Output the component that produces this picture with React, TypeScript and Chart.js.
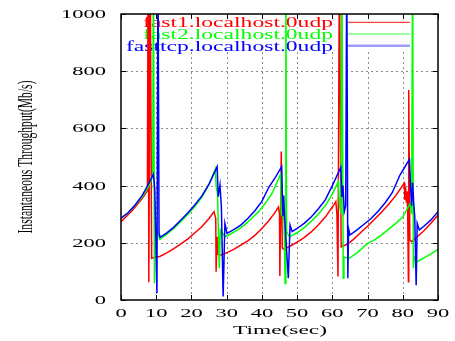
import React, { useEffect, useRef } from "react";
import { Chart, registerables } from "chart.js";

Chart.register(...registerables);

// ---- data ----
const fast1Time = [0, 1.5, 3, 4.5, 6, 7.5, 7.7, 7.9, 8.3, 8.7, 9.7, 11, 13, 15, 17, 19, 21, 23, 25, 26.4, 26.9, 27.0, 27.3, 27.5, 28.3, 30, 32, 34, 36, 38, 40, 42, 43.5, 44.7, 45.0, 45.1, 45.5, 45.8, 46.1, 48, 50, 52, 54, 56, 58, 60, 61.0, 61.3, 61.6, 62.0, 62.5, 64.2, 66, 68, 70, 72, 74, 76, 78, 80.4, 80.6, 80.8, 81.0, 81.2, 81.4, 81.6, 81.7, 82.0, 82.5, 84.1, 86, 88, 90];
const fast1Rate = [274, 292, 310, 332, 355, 382, 1200, 62, 1200, 146, 150, 152, 165, 180, 196, 214, 235, 257, 285, 309, 285, 99, 221, 160, 157, 165, 177, 192, 207, 226, 250, 278, 302, 325, 300, 84, 519, 182, 178, 188, 202, 218, 238, 262, 290, 325, 344, 300, 82, 1200, 186, 195, 212, 235, 258, 282, 308, 335, 365, 408, 350, 395, 340, 380, 300, 64, 734, 210, 204, 221, 242, 268, 297];

const fast2Time = [0, 2, 4, 6, 8, 9.0, 9.2, 9.5, 9.7, 11.0, 13, 15, 17, 19, 21, 23, 25, 26.8, 27.0, 27.4, 27.9, 28.2, 29.5, 31, 33, 35, 37, 39, 41, 43, 45.3, 45.5, 46.3, 46.6, 46.8, 47.0, 47.8, 50, 52, 54, 56, 58, 60, 61.7, 62.0, 62.4, 62.7, 63.1, 63.3, 64.8, 67, 70, 72, 74, 76, 78, 80, 82.1, 82.5, 82.8, 83.0, 83.3, 84.1, 86, 88, 90];
const fast2Rate = [286, 305, 330, 360, 400, 435, 1200, 59, 260, 212, 230, 250, 275, 300, 328, 360, 405, 458, 400, 370, 111, 245, 221, 230, 244, 262, 284, 308, 338, 375, 440, 300, 280, 58, 1200, 240, 221, 235, 253, 275, 300, 330, 370, 414, 340, 300, 1200, 76, 150, 146, 165, 198, 210, 228, 248, 268, 290, 338, 300, 1200, 111, 150, 134, 147, 161, 177];

const fasttcpTime = [0, 2, 4, 6, 8, 9.2, 9.6, 10.0, 10.2, 10.5, 10.8, 11.1, 13, 15, 17, 19, 21, 23, 25, 27.3, 27.6, 28.1, 28.5, 29.0, 29.5, 30.1, 32, 34, 36, 38, 40, 42, 44, 45.6, 45.8, 46.0, 46.2, 46.4, 47.5, 48.0, 48.6, 50, 52, 54, 56, 58, 60, 62.4, 62.7, 63.0, 63.4, 63.8, 64.1, 64.4, 64.6, 65.0, 67, 69, 71, 73, 75, 77, 79.2, 81.9, 82.2, 82.5, 82.8, 83.1, 83.4, 83.8, 84.1, 84.7, 86, 88, 90];
const fasttcpRate = [286, 305, 332, 365, 410, 440, 385, 150, 24, 1200, 235, 219, 235, 255, 280, 305, 333, 365, 405, 466, 361, 402, 326, 12, 268, 233, 246, 262, 285, 312, 345, 395, 432, 466, 370, 295, 365, 300, 76, 262, 239, 250, 268, 290, 318, 350, 400, 464, 360, 400, 310, 330, 1200, 76, 250, 227, 245, 265, 285, 310, 340, 375, 437, 492, 400, 330, 410, 340, 290, 52, 268, 245, 258, 280, 309];

const seriesNames = ["fast1.localhost.0udp", "fast2.localhost.0udp", "fasttcp.localhost.0udp"];
const seriesColors = ["#ff0000", "#00ff00", "#0000ff"];

const xTicks = [0, 10, 20, 30, 40, 50, 60, 70, 80, 90];
const yTicks = [0, 200, 400, 600, 800, 1000];

const xTitle = "Time(sec)";
const yTitle = "Instantaneous Throughput(Mb/s)";

function toPoints(ts: number[], vs: number[]) {
  return ts.map((t, i) => ({ x: t, y: vs[i] }));
}

function stretchText(ctx: CanvasRenderingContext2D, text: string, x: number, y: number, font: string, sx: number, align: CanvasTextAlign) {
  ctx.save();
  ctx.font = font;
  ctx.translate(x, y);
  ctx.scale(sx, 1);
  ctx.textAlign = align;
  ctx.textBaseline = "alphabetic";
  ctx.fillText(text, 0, 0);
  ctx.restore();
}

const KEY_BOTTOM = 52;
const TICK_FONT = '12px "Liberation Serif"';
const KEY_FONT = '14px "Liberation Serif"';

const gnuplotPlugin = {
  id: "gnuplotLook",
  beforeDatasetsDraw(chart: any) {
    const { ctx, chartArea, scales } = chart;
    const { left, right, top, bottom } = chartArea;
    const xs = scales.x;
    const ys = scales.y;
    ctx.save();
    ctx.strokeStyle = "#8a8a8a";
    ctx.lineWidth = 1;
    ctx.setLineDash([2, 3]);
    yTicks.forEach((v) => {
      if (v === yTicks[0] || v === yTicks[yTicks.length - 1]) return;
      const py = Math.round(ys.getPixelForValue(v)) + 0.5;
      ctx.beginPath();
      ctx.moveTo(left, py);
      ctx.lineTo(right, py);
      ctx.stroke();
    });
    xTicks.forEach((t) => {
      if (t === xTicks[0] || t === xTicks[xTicks.length - 1]) return;
      const px = Math.round(xs.getPixelForValue(t)) + 0.5;
      ctx.beginPath();
      ctx.moveTo(px, KEY_BOTTOM);
      ctx.lineTo(px, bottom);
      ctx.stroke();
    });
    ctx.setLineDash([]);

    // key (legend)
    ctx.font = KEY_FONT;
    const sx = 207 / ctx.measureText(seriesNames[2]).width;
    seriesNames.forEach((name, i) => {
      const cy = 22.3 + i * 11.7;
      ctx.fillStyle = seriesColors[i];
      stretchText(ctx, name, 333, cy + 5, KEY_FONT, sx, "right");
      ctx.beginPath();
      if (i === 2) {
        ctx.strokeStyle = "rgba(40,40,255,0.45)";
        ctx.lineWidth = 2.5;
      } else {
        ctx.strokeStyle = seriesColors[i];
        ctx.globalAlpha = 0.75;
        ctx.lineWidth = 1.2;
      }
      ctx.moveTo(348, cy);
      ctx.lineTo(410, cy);
      ctx.stroke();
      ctx.globalAlpha = 1;
    });
    ctx.restore();
  },
  afterDatasetsDraw(chart: any) {
    const { ctx, chartArea, scales } = chart;
    const { left, right, top, bottom } = chartArea;
    const xs = scales.x;
    const ys = scales.y;
    ctx.save();
    ctx.strokeStyle = "#000";
    ctx.lineWidth = 1.5;
    ctx.strokeRect(left, top, right - left, bottom - top);
    ctx.lineWidth = 1;
    const tl = 5;
    xTicks.forEach((t) => {
      const px = Math.round(xs.getPixelForValue(t)) + 0.5;
      ctx.beginPath();
      ctx.moveTo(px, bottom);
      ctx.lineTo(px, bottom - tl);
      ctx.moveTo(px, top);
      ctx.lineTo(px, top + tl);
      ctx.stroke();
    });
    yTicks.forEach((v) => {
      const py = Math.round(ys.getPixelForValue(v)) + 0.5;
      ctx.beginPath();
      ctx.moveTo(left, py);
      ctx.lineTo(left + tl, py);
      ctx.moveTo(right, py);
      ctx.lineTo(right - tl, py);
      ctx.stroke();
    });

    // tick labels
    ctx.fillStyle = "#000";
    ctx.font = TICK_FONT;
    const tsx = 45 / ctx.measureText("1000").width;
    yTicks.forEach((v) => {
      const py = ys.getPixelForValue(v);
      stretchText(ctx, String(v), 106, py + 4, TICK_FONT, tsx, "right");
    });
    xTicks.forEach((t) => {
      const px = xs.getPixelForValue(t);
      stretchText(ctx, String(t), px, 316.7, TICK_FONT, tsx, "center");
    });

    // x title
    const XT_FONT = '13px "Liberation Serif"';
    ctx.font = XT_FONT;
    const xsx = 94 / ctx.measureText(xTitle).width;
    stretchText(ctx, xTitle, 280, 334, XT_FONT, xsx, "center");

    // y title
    const YT_FONT = '22px "Liberation Serif"';
    ctx.font = YT_FONT;
    const ysx = 153 / ctx.measureText(yTitle).width;
    ctx.save();
    ctx.translate(31.5, 157);
    ctx.rotate(-Math.PI / 2);
    stretchText(ctx, yTitle, 0, 0, YT_FONT, ysx, "center");
    ctx.restore();
    ctx.restore();
  },
};

export default function App() {
  const ref = useRef<HTMLCanvasElement | null>(null);
  useEffect(() => {
    if (!ref.current) return;
    const allT = [fast1Time, fast2Time, fasttcpTime];
    const allV = [fast1Rate, fast2Rate, fasttcpRate];
    const chart = new Chart(ref.current, {
      type: "line",
      data: {
        datasets: seriesNames.map((name, i) => ({
          label: name,
          data: toPoints(allT[i], allV[i]),
          borderColor: seriesColors[i],
          backgroundColor: seriesColors[i],
          borderWidth: 1.5,
          pointRadius: 0,
          tension: 0,
          fill: false,
          order: 3 - i,
        })),
      },
      options: {
        responsive: false,
        animation: false,
        devicePixelRatio: 1,
        layout: { padding: { left: 121, right: 17, top: 14, bottom: 41 } },
        scales: {
          x: { type: "linear", min: 0, max: 90, display: false },
          y: { type: "linear", min: 0, max: 1000, display: false },
        },
        plugins: { legend: { display: false }, tooltip: { enabled: false } },
        events: [],
      },
      plugins: [gnuplotPlugin],
    });
    return () => chart.destroy();
  }, []);
  return (
    <div style={{ position: "fixed", left: 0, top: 0, width: 455, height: 341, background: "#fff" }}>
      <canvas ref={ref} width={455} height={341} style={{ display: "block", width: 455, height: 341 }} />
    </div>
  );
}
